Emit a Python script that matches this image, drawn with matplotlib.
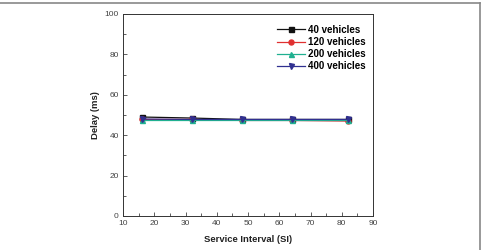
import matplotlib
matplotlib.use("Agg")
import matplotlib.pyplot as plt
from matplotlib.lines import Line2D
from matplotlib.ticker import MultipleLocator

plt.rcParams['font.family'] = ['Liberation Sans', 'DejaVu Sans']

x = [16, 32, 48, 64, 82]
series_names = ["40 vehicles", "120 vehicles", "200 vehicles", "400 vehicles"]
v40 = [49.0, 48.5, 47.8, 47.8, 47.8]
v120 = [47.8, 47.8, 47.3, 47.3, 47.0]
v200 = [47.5, 47.5, 47.5, 47.5, 47.5]
v400 = [48.0, 47.8, 47.8, 47.8, 47.8]

colors = ["#111111", "#e03030", "#20b090", "#303090"]
markers = ["s", "o", "^", "v"]

fig = plt.figure(figsize=(4.83, 2.5), dpi=100)
ax = fig.add_axes([0.2547, 0.136, 0.5176, 0.808])

for vals, name, c, m in zip([v40, v120, v200, v400], series_names, colors, markers):
    ax.plot(x, vals, color=c, marker=m, markersize=3.6, linewidth=0.9, label=name)

ax.set_xlim(10, 90)
ax.set_ylim(0, 100)
ax.xaxis.set_major_locator(MultipleLocator(10))
ax.xaxis.set_minor_locator(MultipleLocator(5))
ax.yaxis.set_major_locator(MultipleLocator(20))
ax.yaxis.set_minor_locator(MultipleLocator(10))
ax.tick_params(which='both', direction='in', top=False, right=False, labelsize=6,
               labelcolor='#444444', color='#444444', width=0.6)
ax.tick_params(which='major', length=3, pad=3)
ax.tick_params(which='minor', length=2)
for s in ax.spines.values():
    s.set_linewidth(0.7)
    s.set_color('#333333')

ax.set_xlabel("Service Interval (SI)", fontsize=6.8, fontweight='bold', color='#222222', labelpad=6)
ax.set_ylabel("Delay (ms)", fontsize=6.8, fontweight='bold', color='#222222', labelpad=3)

leg = ax.legend(loc='upper right', bbox_to_anchor=(0.995, 0.975), frameon=False,
                prop={'weight': 'bold', 'size': 7}, handlelength=2.9,
                labelspacing=0.22, handletextpad=0.3, borderaxespad=0.2)

# image frame lines
fig.add_artist(Line2D([0, 0.994], [0.988, 0.988], transform=fig.transFigure, color='#888888', lw=1.2))
fig.add_artist(Line2D([0.994, 0.994], [0.0, 0.988], transform=fig.transFigure, color='#888888', lw=1.2))

fig.savefig("out.png", dpi=100)
